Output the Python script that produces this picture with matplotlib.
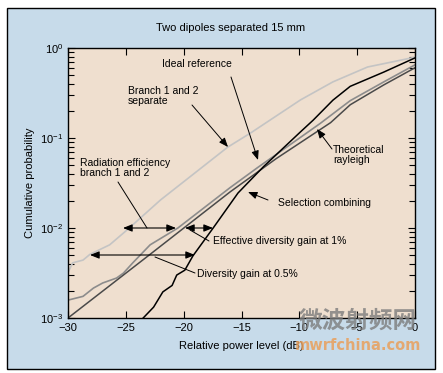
import matplotlib
matplotlib.use("Agg")
import matplotlib.pyplot as plt
import numpy as np
from matplotlib.patches import Rectangle

plt.rcParams['font.family'] = ['Liberation Sans Narrow', 'Liberation Sans', 'DejaVu Sans']
plt.rcParams['mathtext.fontset'] = 'custom'
plt.rcParams['mathtext.rm'] = 'Liberation Sans'

# Données (dB, probabilité cumulée)
x_sep = [-30, -29.6, -28.7, -28.1, -26.4, -24.9, -22.0, -16.2, -14.2, -9.9, -7.1, -4.1, 0]
p_sep = [3.2e-3, 4.1e-3, 4.4e-3, 5.1e-3, 6.5e-3, 9.5e-3, 0.0205, 0.079, 0.114, 0.265, 0.42, 0.615, 0.79]

x_ideal = [-30, -28.7, -27.8, -27.0, -25.8, -25.2, -24.4, -22.9, -20.5, -16.0, -13.6, -8.2, -5.6, -2.7, 0]
p_ideal = [1.58e-3, 1.74e-3, 2.15e-3, 2.45e-3, 2.78e-3, 3.16e-3, 4.1e-3, 6.5e-3, 0.0100, 0.028, 0.047, 0.145, 0.26, 0.42, 0.65]

x_ray = [-30, -22.9, -16.0, -12.0, -7.3, -5.6, -2.7, 0]
p_ray = [1.0e-3, 5.1e-3, 0.0251, 0.059, 0.148, 0.234, 0.389, 0.603]

x_sel = [-23.5, -22.6, -21.8, -21.0, -20.6, -19.9, -19.2, -17.45, -15.3, -13.1, -9.9, -8.8, -7.1, -5.6, -2.7, 0]
p_sel = [1.0e-3, 1.32e-3, 1.95e-3, 2.3e-3, 3.0e-3, 3.4e-3, 4.9e-3, 1.0e-2, 0.0245, 0.048, 0.117, 0.158, 0.263, 0.375, 0.54, 0.776]

xticks = [-30, -25, -20, -15, -10, -5, 0]

fig = plt.figure(figsize=(4.43, 3.73), dpi=100)
fig.patch.set_facecolor('white')
# cadre bleu
fig.patches.append(Rectangle((7/443, 1-369/373), 428/443, 361/373, transform=fig.transFigure,
                             facecolor='#c7dbea', edgecolor='black', lw=1.0, zorder=-5))

ax = fig.add_axes([68/443, 1-318/373, 347/443, 270/373])
ax.set_zorder(2)
ax.set_facecolor('#efdfcf')
ax.semilogy(x_sep, p_sep, color='#c4c4c4', lw=1.2)
ax.semilogy(x_ideal, p_ideal, color='#8c8c8c', lw=1.2)
ax.semilogy(x_ray, p_ray, color='#4a4a4a', lw=1.1)
ax.semilogy(x_sel, p_sel, color='black', lw=1.1)
ax.set_xlim(-30, 0)
ax.set_ylim(1e-3, 1)
ax.set_xticks(xticks)
ax.set_xticklabels(['\u221230', '\u221225', '\u221220', '\u221215', '\u221210', '\u22125', '0'])
ax.tick_params(which='both', direction='in', top=True, right=True, labelsize=8)
ax.tick_params(which='major', length=5, width=0.8)
ax.tick_params(which='minor', length=4, width=0.8)
ax.tick_params(axis='x', which='minor', length=0)
for s in ax.spines.values():
    s.set_linewidth(1.0)

ax.set_xlabel('Relative power level (dB)', fontsize=8, labelpad=6)
ax.set_ylabel('Cumulative probability', fontsize=8, labelpad=4)
fig.text(231/443, 1-28/373, 'Two dipoles separated 15 mm', fontsize=8, ha='center', va='center')

def px(xp, yp):
    return (xp/443, 1-yp/373)

arr = dict(arrowstyle='-|>,head_length=0.55,head_width=0.22', color='black', lw=0.7, shrinkA=0, shrinkB=0)
dbl = dict(arrowstyle='<|-|>,head_length=0.55,head_width=0.22', color='black', lw=0.8, shrinkA=0, shrinkB=0)
ln = dict(arrowstyle='-', color='black', lw=0.7, shrinkA=0, shrinkB=0)
fs = 7.5

def note(txt, tx, ty, **kw):
    ax.text(tx/443, 1-ty/373, txt, fontsize=fs, transform=fig.transFigure, **kw)

def link(a, b, style):
    ax.annotate('', xy=px(*b), xycoords='figure fraction', xytext=px(*a),
                textcoords='figure fraction', arrowprops=style, annotation_clip=False)

note('Ideal reference', 197, 64, ha='center', va='center')
link((231, 77), (258, 160), arr)
note('Branch 1 and 2\nseparate', 128, 96, ha='left', va='center', linespacing=0.95)
link((192, 105), (228, 147), arr)
note('Theoretical\nrayleigh', 333, 155, ha='left', va='center', linespacing=0.95)
link((332, 149), (317, 129), arr)
note('Selection combining', 278, 203, ha='left', va='center')
link((268, 200), (248, 192), arr)
note('Radiation efficiency\nbranch 1 and 2', 80, 168, ha='left', va='center', linespacing=0.95)
link((118, 182), (147, 228), ln)
link((123, 228), (176, 228), dbl)
link((185, 228), (213, 228), dbl)
note('Effective diversity gain at 1%', 213, 241, ha='left', va='center')
link((190, 230), (209, 241), ln)
link((90, 255), (195, 255), dbl)
note('Diversity gain at 0.5%', 197, 274, ha='left', va='center')
link((155, 257), (195, 273), ln)

# filigrane
fig.text(358/443, 1-321/373, '微波射频网', fontsize=17, fontweight='bold', color='#7d7d7d',
         alpha=0.8, ha='center', va='center', family=['Noto Sans CJK SC', 'DejaVu Sans'], zorder=5)
fig.text(358/443, 1-346/373, 'mwrfchina.com', fontsize=10.5, fontweight='bold', color='#e9a05c',
         alpha=0.85, ha='center', va='center', family=['DejaVu Sans'], zorder=5)

fig.savefig('out.png', dpi=100, facecolor=fig.get_facecolor())
